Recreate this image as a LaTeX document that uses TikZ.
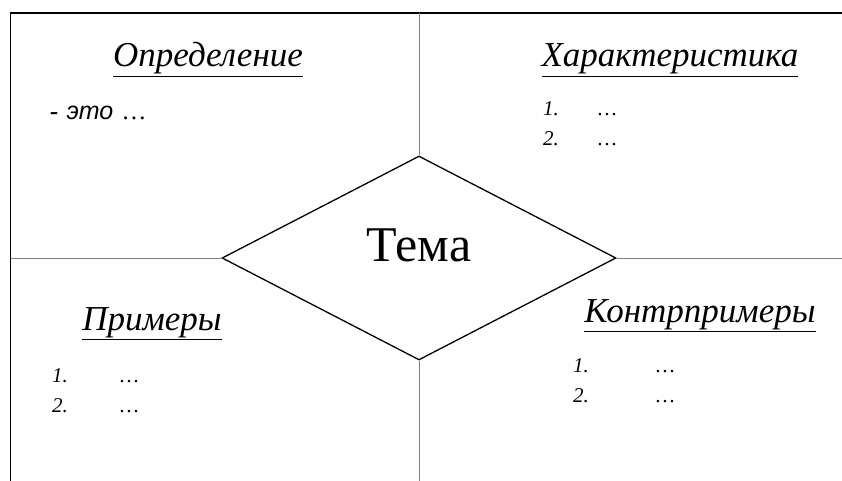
\documentclass[tikz,border=0pt]{standalone}
\usepackage{fontspec}
\setmainfont{Liberation Serif}
\setsansfont{Liberation Sans}
\usetikzlibrary{shapes.geometric}
\begin{document}
\begin{tikzpicture}[x=1pt,y=-1pt]
\tikzstyle{frame_style} = [black, line width=1.6]
\tikzstyle{cross_style} = [gray, line width=0.9]
\tikzstyle{topic_style} = [diamond, draw=black, line width=1.3, minimum width=394, minimum height=204, inner sep=0, font=\fontsize{50}{60}\selectfont]
\tikzstyle{title_style} = [anchor=base, inner sep=0, font=\fontsize{35}{42}\selectfont\itshape]
\tikzstyle{item_style} = [anchor=base west, inner sep=0, font=\fontsize{21}{25}\selectfont\itshape]
    \useasboundingbox (0,0) rectangle (842,481);

    % frame
    \coordinate (c1) at (10.5,481);
    \coordinate (c2) at (10.5,13);
    \coordinate (c3) at (842,13);
    \draw[frame_style] (c1) -- (c2) -- (c3);

    % centre
    \node[topic_style] (topic) at (419,258) {\raisebox{26pt}{Тема}};

    \coordinate (top) at (419,13);
    \coordinate (bottom) at (419,481);
    \coordinate (left) at (10.5,258);
    \coordinate (right) at (842,258);
    \draw[cross_style] (top) -- (topic.north);
    \draw[cross_style] (topic.south) -- (bottom);
    \draw[cross_style] (left) -- (topic.west);
    \draw[cross_style] (topic.east) -- (right);

    % four fields
    \node[title_style] (def) at (208,67) {\underline{Определение}};
    \node[item_style, font=\fontsize{25}{30}\selectfont\itshape] (def1) at (50,120) {\textbf{-}\hspace{8pt}\sffamily это\hspace{10pt}\rmfamily …};

    \node[title_style] (char) at (670,67) {\underline{Характеристика}};
    \node[item_style] (char1) at (543,116) {1.};
    \node[item_style] (char2) at (543,146) {2.};
    \node[item_style] (char1d) at (598,116) {…};
    \node[item_style] (char2d) at (598,146) {…};

    \node[title_style] (ex) at (152,330) {\underline{Примеры}};
    \node[item_style] (ex1) at (52,382) {1.};
    \node[item_style] (ex2) at (52,412) {2.};
    \node[item_style] (ex1d) at (120,382) {…};
    \node[item_style] (ex2d) at (120,412) {…};

    \node[title_style] (cex) at (700,322) {\underline{Контрпримеры}};
    \node[item_style] (cex1) at (573,372) {1.};
    \node[item_style] (cex2) at (573,402) {2.};
    \node[item_style] (cex1d) at (656,372) {…};
    \node[item_style] (cex2d) at (656,402) {…};
\end{tikzpicture}
\end{document}
